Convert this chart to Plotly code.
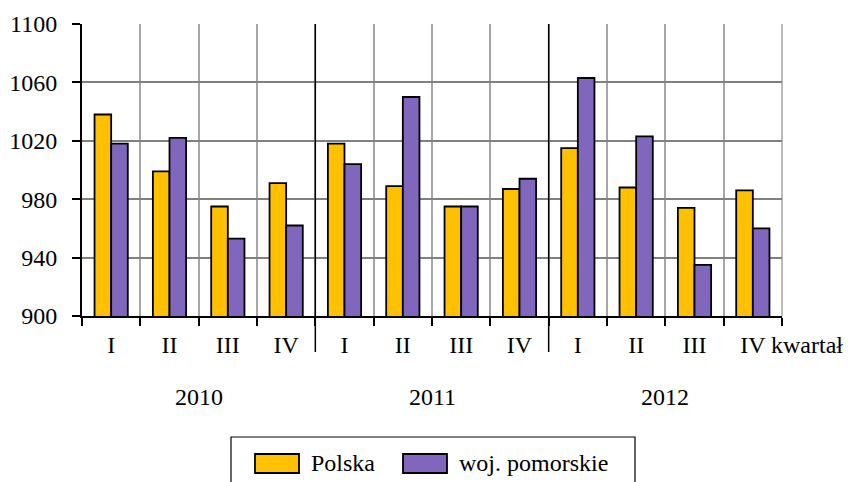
import plotly.graph_objects as go

years = ["2010", "2011", "2012"]
quarters = ["I", "II", "III", "IV"]
series_names = ["Polska", "woj. pomorskie"]
polska = [1038, 999, 975, 991, 1018, 989, 975, 987, 1015, 988, 974, 986]
pomorskie = [1018, 1022, 953, 962, 1004, 1050, 975, 994, 1063, 1023, 935, 960]
colors = ["#FFC000", "#8066BC"]

n = len(years) * len(quarters)
xpos = list(range(n))
ticktext = quarters * len(years)

FONT = "Liberation Serif, Times New Roman, serif"
FS = 24
L, R, T, B = 82, 69, 24, 166
W, H = 851, 482
PW, PH = W - L - R, H - T - B

def px(x):
    return (x - L) / PW

def py(y):
    return (T + PH - y) / PH

fig = go.Figure()
for name, vals, col in zip(series_names, [polska, pomorskie], colors):
    fig.add_trace(go.Bar(x=xpos, y=vals, name=name, marker=dict(color=col, line=dict(color="black", width=1.8)), showlegend=False))

shapes = []
for k in range(1, len(years)):
    xs = k * len(quarters) - 0.5
    shapes.append(dict(type="line", xref="x", yref="paper", x0=xs, x1=xs, y0=py(352), y1=1,
                       line=dict(color="black", width=1.5), layer="above"))
shapes.append(dict(type="line", xref="paper", yref="paper", x0=1, x1=1, y0=0, y1=1,
                   line=dict(color="#A6A6A6", width=1.5), layer="below"))

shapes.append(dict(type="rect", xref="paper", yref="paper", x0=px(231), x1=px(635), y0=py(500), y1=py(437),
                   line=dict(color="black", width=1.2), fillcolor="rgba(0,0,0,0)"))
annotations = []
leg_items = [(255, 299, 309), (403, 447, 457)]
for (sx0, sx1, tx), name, col in zip(leg_items, series_names, colors):
    shapes.append(dict(type="rect", xref="paper", yref="paper", x0=px(sx0), x1=px(sx1), y0=py(473), y1=py(454),
                       line=dict(color="black", width=1.8), fillcolor=col))
    annotations.append(dict(xref="paper", yref="paper", x=px(tx), y=py(463), text=name, showarrow=False,
                            xanchor="left", yanchor="middle", font=dict(family=FONT, size=FS, color="black")))

for k, yr in enumerate(years):
    annotations.append(dict(xref="x", yref="paper", x=k * len(quarters) + 1.5, y=py(397), text=yr,
                            showarrow=False, xanchor="center", yanchor="middle",
                            font=dict(family=FONT, size=FS, color="black")))
annotations.append(dict(xref="paper", yref="paper", x=px(769), y=py(345), text="kwartał", showarrow=False,
                        xanchor="left", yanchor="middle", font=dict(family=FONT, size=FS, color="black")))

fig.update_layout(
    width=W, height=H,
    margin=dict(l=L, r=R, t=T, b=B, pad=0, autoexpand=False),
    paper_bgcolor="white", plot_bgcolor="white",
    barmode="group", bargap=0.43, bargroupgap=0,
    font=dict(family=FONT, size=FS, color="black"),
    shapes=shapes, annotations=annotations,
    xaxis=dict(range=[-0.5, n - 0.5], tickmode="array", tickvals=xpos, ticktext=ticktext, automargin=False,
               showgrid=False, ticks="", ticklabelstandoff=6, showline=True, linecolor="black", linewidth=2,
               tickfont=dict(family=FONT, size=FS, color="black"), zeroline=False,
               minor=dict(tick0=-0.5, dtick=1, showgrid=True, gridcolor="#A6A6A6", gridwidth=1.5,
                          ticks="outside", ticklen=8, tickcolor="black", tickwidth=1.5)),
    yaxis=dict(range=[900, 1100], tick0=900, dtick=40, showgrid=True, gridcolor="#808080", gridwidth=1.5,
               ticks="outside", ticklen=8, tickcolor="black", tickwidth=1.5, ticklabelstandoff=10, automargin=False,
               showline=True, linecolor="black", linewidth=2, zeroline=False,
               tickfont=dict(family=FONT, size=FS, color="black")),
)

fig.write_html("out.html", config={"displayModeBar": False},
               post_script="document.body.style.margin='0';document.body.style.padding='0';")
